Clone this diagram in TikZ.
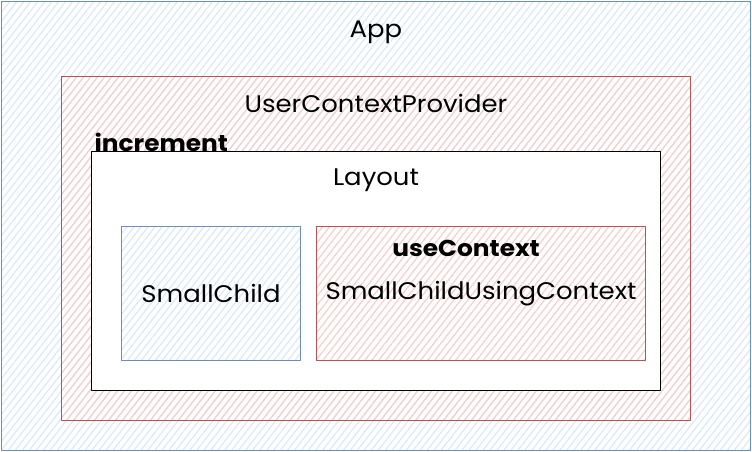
\documentclass[tikz,border=0pt]{standalone}
\usepackage{fontspec}
\setmainfont[FakeStretch=1.08]{Poppins}
\usetikzlibrary{patterns.meta,positioning}
\definecolor{blueline}{HTML}{6C8EBF}
\definecolor{bluefill}{HTML}{DAE8FC}
\definecolor{redline}{HTML}{B85450}
\definecolor{redfill}{HTML}{F8CECC}

\begin{document}
\begin{tikzpicture}[x=1pt,y=-1pt,line join=round,
  hatch/.style={pattern={Lines[angle=52,distance=5.5pt,line width=1.2pt]},pattern color=#1},
  bluebox/.style={draw=blueline,line width=1pt,hatch=bluefill},
  redbox/.style={draw=redline,line width=1.2pt,hatch=redfill},
  frame/.style={rectangle,anchor=north west,inner sep=0pt},
  lbl/.style={font=\fontsize{24}{28}\selectfont},
  boldlbl/.style={font=\fontsize{23}{27}\selectfont\bfseries}]
  \useasboundingbox (0,0) rectangle (752,452);

  % containers
  \node[frame,bluebox,minimum width=749pt,minimum height=449pt] (app) at (1,1) {};
  \node[frame,redbox,minimum width=629pt,minimum height=344pt] (provider) at (61,76) {};
  \node[frame,draw,fill=white,line width=1.2pt,minimum width=569pt,minimum height=239pt] (layout) at (91,151) {};
  \node[frame,bluebox,minimum width=179pt,minimum height=134pt] (small) at (121,226) {};
  \node[frame,redbox,minimum width=329pt,minimum height=134pt] (using) at (316,226) {};

  % labels
  \node[lbl] (applbl) at (376,32) {App};
  \node[lbl] (providerlbl) at (376,103) {UserContextProvider};
  \node[boldlbl,anchor=west] (increment) at (91,142) {increment};
  \node[lbl] (layoutlbl) at (376,180) {Layout};
  \node[boldlbl] (usectx) at (466,248) {useContext};
  \node[lbl] (smalllbl) at (small.center) {SmallChild};
  \node[lbl] (usinglbl) at (using.center) {SmallChildUsingContext};
\end{tikzpicture}
\end{document}
